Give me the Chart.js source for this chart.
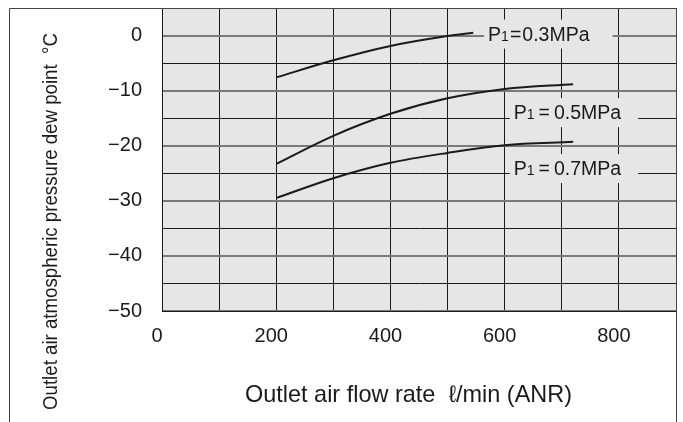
<!DOCTYPE html>
<html lang="en">
<head>
  <meta charset="UTF-8" />
  <title>Outlet air dew point</title>
  <script src="https://cdn.jsdelivr.net/npm/chart.js"></script>
  <style>
    html, body { margin: 0; padding: 0; background: #fff; }
    #wrap { width: 683px; height: 422px; }
  </style>
</head>
<body>
  <div id="wrap"><canvas id="dewChart" width="683" height="422"></canvas></div>
  <script>
    // flow rate (l/min ANR) and dew point (°C)
    const flow03 = [200, 300, 400, 500, 545];
    const dew03 = [-7.6, -4.5, -1.9, -0.1, 0.5];
    const flow05 = [200, 300, 400, 500, 600, 720];
    const dew05 = [-23.3, -18.2, -14.2, -11.4, -9.7, -8.85];
    const flow07 = [200, 300, 400, 500, 600, 720];
    const dew07 = [-29.5, -25.9, -23.1, -21.3, -19.9, -19.3];
    const pressures = ['0.3MPa', '0.5MPa', '0.7MPa'];
    // where each pressure label sits (data coords of text start / middle)
    const labelFlow = [571, 616, 616];
    const labelDew = [0.35, -13.9, -24.05];

    const FONT = 'Liberation Sans, Arial, sans-serif';
    const INK = '#1a1a1a';
    const BG = '#e6e6e6';

    const toPts = (xs, ys) => xs.map((x, i) => ({ x, y: ys[i] }));

    const decor = {
      id: 'decor',
      beforeDraw(chart) {
        const { ctx, chartArea: a } = chart;
        ctx.save();
        ctx.fillStyle = BG;
        ctx.fillRect(a.left, a.top, a.right - a.left, a.bottom - a.top);
        ctx.restore();
      },
      afterDatasetsDraw(chart) {
        const { ctx, scales: { x, y } } = chart;
        ctx.save();
        pressures.forEach((p, i) => {
          const tx = x.getPixelForValue(labelFlow[i]);
          const ty = y.getPixelForValue(labelDew[i]);
          const tight = i === 0;
          const gap = tight ? 1 : 4;
          ctx.font = '19.5px ' + FONT;
          const wP = ctx.measureText('P').width;
          const wEq = ctx.measureText('=').width;
          const wVal = ctx.measureText(p).width;
          ctx.font = '14px ' + FONT;
          const w1 = ctx.measureText('1').width;
          const total = wP + w1 + gap + wEq + gap + wVal;
          ctx.fillStyle = BG;
          ctx.fillRect(tx - 4, ty - 14, total + (tight ? 27 : 21), 29);
          ctx.fillStyle = INK;
          ctx.textBaseline = 'alphabetic';
          ctx.textAlign = 'left';
          const base = ty + 7;
          let cx = tx;
          ctx.font = '19.5px ' + FONT;
          ctx.fillText('P', cx, base); cx += wP;
          ctx.font = '14px ' + FONT;
          ctx.fillText('1', cx, base); cx += w1 + gap;
          ctx.font = '19.5px ' + FONT;
          ctx.fillText('=', cx, base); cx += wEq + gap;
          ctx.fillText(p, cx, base);
        });
        ctx.restore();
      },
      afterDraw(chart) {
        const { ctx, chartArea: a } = chart;
        ctx.save();
        // outer frame
        ctx.strokeStyle = '#444';
        ctx.lineWidth = 1;
        ctx.beginPath();
        ctx.moveTo(9.5, 422);
        ctx.lineTo(9.5, a.top + 0.5);
        ctx.lineTo(a.right + 0.5, a.top + 0.5);
        ctx.lineTo(a.right + 0.5, 422);
        ctx.stroke();
        // axis titles
        ctx.fillStyle = INK;
        ctx.textAlign = 'left';
        ctx.textBaseline = 'alphabetic';
        ctx.font = '24px ' + FONT;
        ctx.fillText('Outlet air flow rate  \u2113/min (ANR)', 245, 402, 327);
        ctx.translate(57, 410);
        ctx.rotate(-Math.PI / 2);
        ctx.font = '20px ' + FONT;
        ctx.fillText('Outlet air atmospheric pressure dew point  \u00B0C', 0, 0, 377);
        ctx.restore();
      }
    };

    const line = (pts) => ({
      data: pts,
      borderColor: INK,
      borderWidth: 2,
      pointRadius: 0,
      fill: false,
      cubicInterpolationMode: 'monotone'
    });

    new Chart(document.getElementById('dewChart'), {
      type: 'line',
      data: {
        datasets: [
          line(toPts(flow03, dew03)),
          line(toPts(flow05, dew05)),
          line(toPts(flow07, dew07))
        ]
      },
      options: {
        responsive: false,
        animation: false,
        layout: { padding: { top: 8, right: 7, left: 0, bottom: 0 } },
        plugins: { legend: { display: false }, tooltip: { enabled: false } },
        scales: {
          x: {
            type: 'linear',
            min: 0,
            max: 900,
            afterFit(s) { s.height = 111; s.paddingLeft = 0; s.paddingRight = 0; },
            border: { color: INK, width: 1 },
            grid: { color: INK, lineWidth: 1, drawTicks: false },
            ticks: {
              stepSize: 100,
              autoSkip: false,
              maxRotation: 0,
              padding: 13,
              labelOffset: -5,
              color: INK,
              font: { family: FONT, size: 20 },
              callback: (v) => (v % 200 === 0 ? String(v) : '')
            }
          },
          y: {
            type: 'linear',
            min: -50,
            max: 5,
            afterFit(s) { s.width = 162; s.paddingTop = 0; s.paddingBottom = 0; },
            border: { color: INK, width: 1 },
            grid: {
              drawTicks: false,
              color: (c) => (c.tick && c.tick.value % 10 === 0 ? '#7a7a7a' : INK),
              lineWidth: (c) => (c.tick && c.tick.value % 10 === 0 ? 2 : 1)
            },
            ticks: {
              stepSize: 5,
              autoSkip: false,
              padding: 20,
              color: INK,
              font: { family: FONT, size: 20 },
              callback: (v) => (v % 10 === 0 && v <= 0 ? (v < 0 ? '\u2212' + Math.abs(v) : '0') : '')
            }
          }
        }
      },
      plugins: [decor]
    });
  </script>
</body>
</html>
